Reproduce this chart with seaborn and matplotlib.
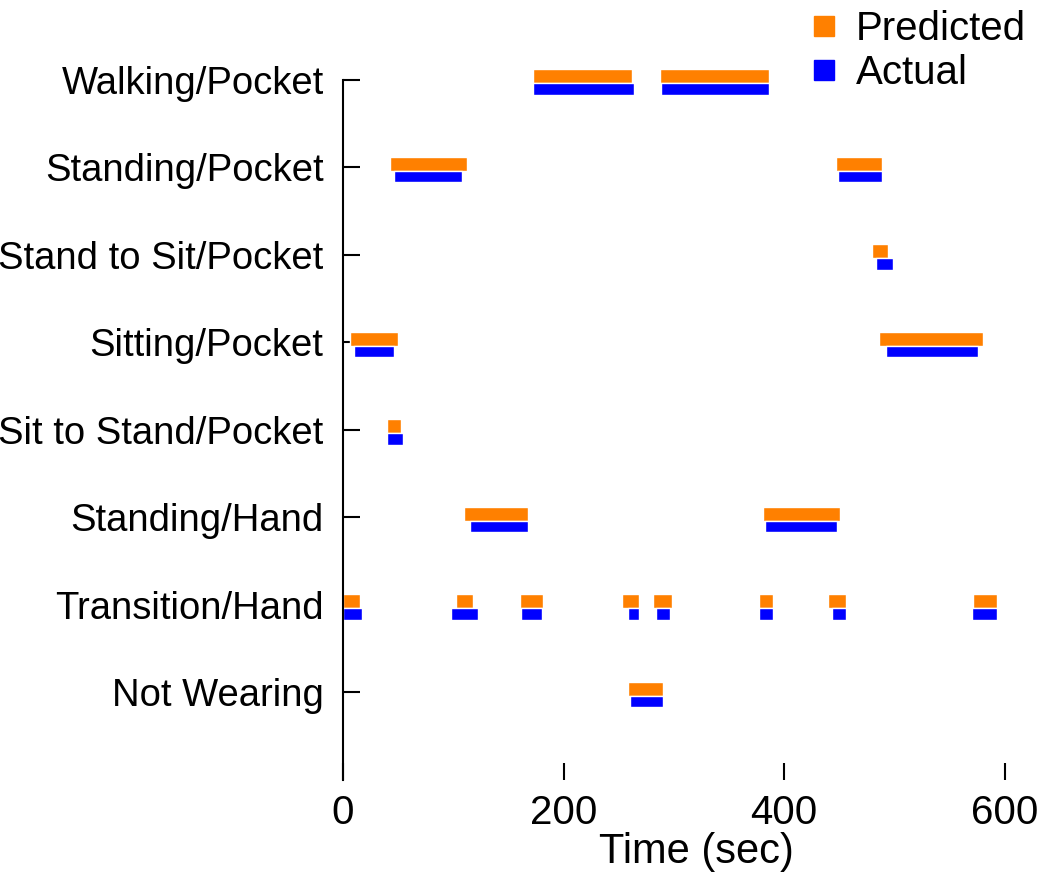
import matplotlib
matplotlib.use("Agg")
import matplotlib.pyplot as plt
import seaborn as sns
from matplotlib.lines import Line2D

# Activity rows, top to bottom
activities = ['Walking/Pocket', 'Standing/Pocket', 'Stand to Sit/Pocket', 'Sitting/Pocket',
              'Sit to Stand/Pocket', 'Standing/Hand', 'Transition/Hand', 'Not Wearing']

# (start, duration) in seconds
predicted = [
    [(172, 90), (287, 99)],
    [(43, 69), (447, 42)],
    [(480, 14)],
    [(6, 44), (486, 94)],
    [(40, 13)],
    [(110, 58), (381, 70)],
    [(0, 15), (102, 16), (160, 21), (253, 15), (281, 17), (377, 13), (440, 16), (571, 22)],
    [(258, 32)],
]
actual = [
    [(172, 92), (288, 98)],
    [(46, 62), (449, 40)],
    [(483, 16)],
    [(10, 36), (492, 84)],
    [(40, 14)],
    [(115, 53), (383, 65)],
    [(0, 17), (98, 24), (161, 19), (258, 10), (284, 12), (377, 13), (443, 13), (570, 23)],
    [(260, 30)],
]

pred_color = '#FF8000'
act_color = '#0000FF'

sns.set_theme(style='white')
plt.rcParams['font.family'] = ['Liberation Sans', 'DejaVu Sans']
plt.rcParams['text.color'] = 'black'
plt.rcParams['axes.labelcolor'] = 'black'
plt.rcParams['xtick.color'] = 'black'
plt.rcParams['ytick.color'] = 'black'

fig = plt.figure(figsize=(10.5, 8.75), dpi=100)
ax = fig.add_axes([0.3267, 0.1086, 0.6723, 0.80])

n = len(activities)
ypos = [n - i for i in range(n)]
for y, pr, ac in zip(ypos, predicted, actual):
    ax.broken_barh(pr, (y - 0.035, 0.16), facecolors=pred_color, clip_on=False)
    ax.broken_barh(ac, (y - 0.17, 0.135), facecolors=act_color, clip_on=False)

ax.set_ylim(0, n)
ax.set_xlim(0, 640)
ax.set_yticks(ypos)
ax.set_yticklabels(activities, fontsize=27.5)
ax.set_xticks([0, 200, 400, 600])
ax.tick_params(axis='x', labelsize=29, direction='in', length=12, width=1.5, pad=10, bottom=True)
ax.tick_params(axis='y', direction='in', length=12, width=1.5, pad=14, left=True)
ax.set_xlabel('Time (sec)', fontsize=30, labelpad=0)

for side in ['top', 'right', 'bottom']:
    ax.spines[side].set_visible(False)
ax.spines['left'].set_color('black')
ax.spines['left'].set_linewidth(1.5)

handles = [Line2D([], [], marker='s', linestyle='none', markersize=14, color=pred_color),
           Line2D([], [], marker='s', linestyle='none', markersize=14, color=act_color)]
fig.legend(handles, ['Predicted', 'Actual'], loc='upper right', bbox_to_anchor=(1.012, 1.03),
           frameon=False, fontsize=29, handletextpad=0.3, labelspacing=0.15, handlelength=1.0)

fig.savefig('out.png', dpi=100)
